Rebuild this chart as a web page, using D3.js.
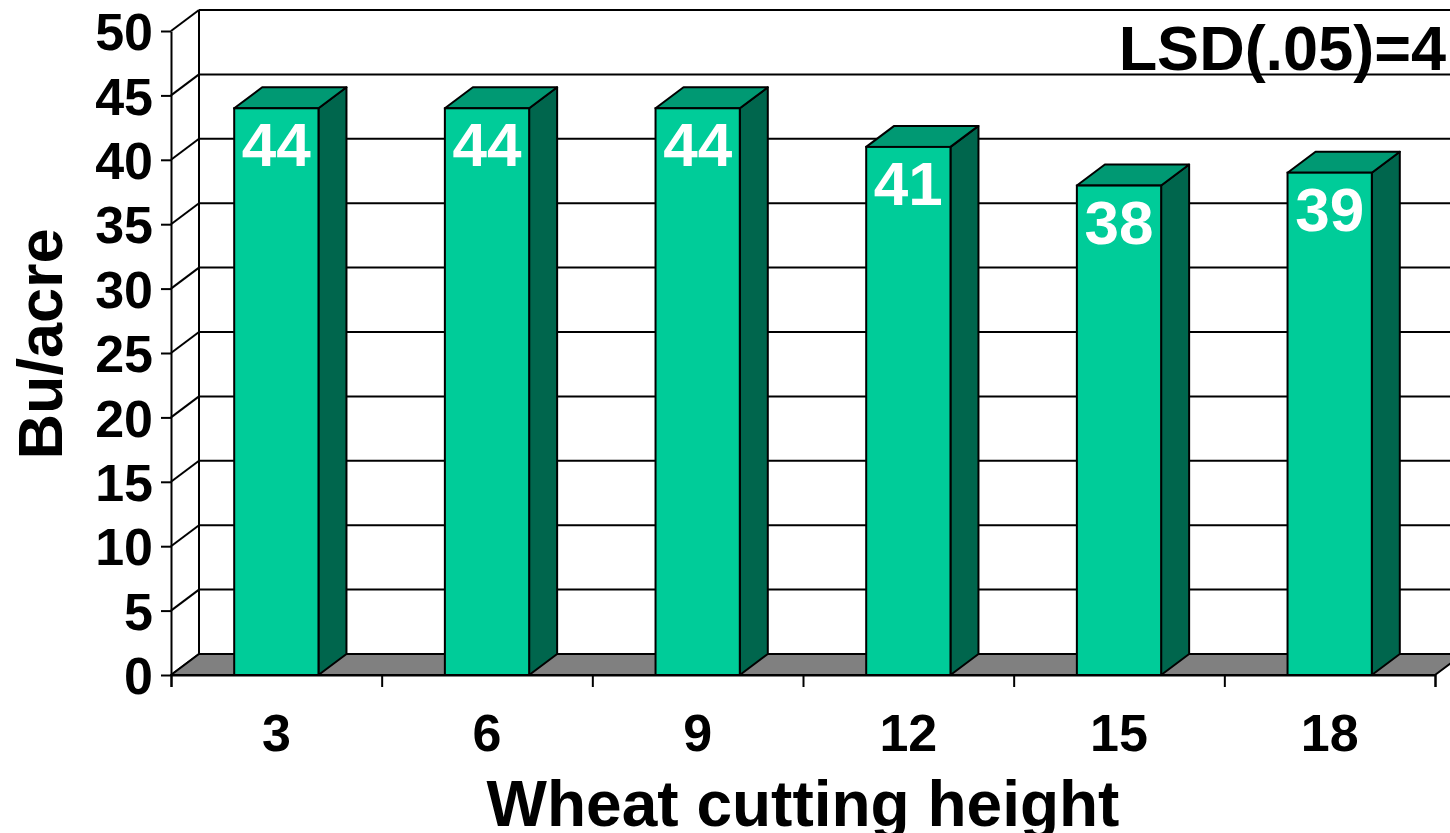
<!DOCTYPE html>
<html>
<head>
<meta charset="utf-8">
<script src="https://cdn.jsdelivr.net/npm/d3@7"></script>
<style>
  body { margin: 0; background: #fff; }
  text { font-family: "Liberation Sans", Arial, sans-serif; font-weight: bold; }
</style>
</head>
<body>
<div id="chart"></div>
<script>
// chart data
var heights = ["3", "6", "9", "12", "15", "18"];
var yields = [44, 44, 44, 41, 38, 39];
var yTicks = [0, 5, 10, 15, 20, 25, 30, 35, 40, 45, 50];
var lsdText = "LSD(.05)=4";

var svgWidth = 1450, svgHeight = 833;
// front plane of the 3d box
var plotLeft = 171, plotRight = 1435, plotBottom = 675, plotTop = 31;
// depth offset of the back wall
var dx = 28, dy = -21;

var svg = d3.select("#chart").append("svg")
  .attr("width", svgWidth)
  .attr("height", svgHeight);

var y = d3.scaleLinear().domain([0, 50]).range([plotBottom, plotTop]);
var x = d3.scaleBand().domain(heights).range([plotLeft, plotRight])
  .paddingInner(0.6).paddingOuter(0.3);
var edge = d3.scaleLinear().domain([0, heights.length]).range([plotLeft, plotRight]);

function pts(arr) { return arr.map(function(p) { return p.join(","); }).join(" "); }

// back wall gridlines
svg.append("g").selectAll("line")
  .data(yTicks).enter().append("line")
  .attr("x1", plotLeft + dx).attr("x2", plotRight + dx)
  .attr("y1", function(d) { return y(d) + dy; })
  .attr("y2", function(d) { return y(d) + dy; })
  .attr("stroke", "#000").attr("stroke-width", 2);

// side wall diagonals
svg.append("g").selectAll("line")
  .data(yTicks).enter().append("line")
  .attr("x1", plotLeft).attr("x2", plotLeft + dx)
  .attr("y1", function(d) { return y(d); })
  .attr("y2", function(d) { return y(d) + dy; })
  .attr("stroke", "#000").attr("stroke-width", 2);

// back wall left edge
svg.append("line")
  .attr("x1", plotLeft + dx).attr("x2", plotLeft + dx)
  .attr("y1", y(0) + dy).attr("y2", y(50) + dy)
  .attr("stroke", "#000").attr("stroke-width", 2);

// floor
svg.append("polygon")
  .attr("points", pts([[plotLeft, y(0)], [plotRight, y(0)], [plotRight + dx, y(0) + dy], [plotLeft + dx, y(0) + dy]]))
  .attr("fill", "#808080").attr("stroke", "#000").attr("stroke-width", 2)
  .attr("stroke-linejoin", "round");

// bars
var bar = svg.selectAll(".bar")
  .data(yields).enter().append("g")
  .attr("class", "bar");

bar.append("polygon") // side
  .attr("points", function(d, i) {
    var x1 = x(heights[i]) + x.bandwidth();
    return pts([[x1, y(0)], [x1 + dx, y(0) + dy], [x1 + dx, y(d) + dy], [x1, y(d)]]);
  })
  .attr("fill", "#00664d").attr("stroke", "#000").attr("stroke-width", 2)
  .attr("stroke-linejoin", "round");

bar.append("polygon") // top
  .attr("points", function(d, i) {
    var x0 = x(heights[i]), x1 = x0 + x.bandwidth();
    return pts([[x0, y(d)], [x1, y(d)], [x1 + dx, y(d) + dy], [x0 + dx, y(d) + dy]]);
  })
  .attr("fill", "#009973").attr("stroke", "#000").attr("stroke-width", 2)
  .attr("stroke-linejoin", "round");

bar.append("rect") // front
  .attr("x", function(d, i) { return x(heights[i]); })
  .attr("y", function(d) { return y(d); })
  .attr("width", x.bandwidth())
  .attr("height", function(d) { return y(0) - y(d); })
  .attr("fill", "#00cc99").attr("stroke", "#000").attr("stroke-width", 2);

// value labels
bar.append("text")
  .attr("x", function(d, i) { return x(heights[i]) + x.bandwidth() / 2; })
  .attr("y", function(d) { return y(d) + 58; })
  .attr("text-anchor", "middle")
  .style("font-size", "62px")
  .style("fill", "#fff")
  .text(function(d) { return d; });

// y axis
var yAxis = svg.append("g")
  .attr("transform", "translate(" + plotLeft + ",0)")
  .call(d3.axisLeft(y).tickValues(yTicks).tickSize(10).tickSizeOuter(0).tickPadding(8));
yAxis.select(".domain").attr("stroke", "#000").attr("stroke-width", 2);
yAxis.selectAll(".tick line").attr("stroke", "#000").attr("stroke-width", 2);
yAxis.selectAll(".tick text")
  .attr("dy", "0.36em")
  .attr("font-family", null).attr("font-size", null)
  .style("font-size", "52px").style("fill", "#000");

// x axis: boundary ticks
var xTickAxis = svg.append("g")
  .attr("transform", "translate(0," + plotBottom + ")")
  .call(d3.axisBottom(edge).tickValues(d3.range(heights.length + 1)).tickSize(12).tickFormat(""));
xTickAxis.select(".domain").attr("stroke", "#000").attr("stroke-width", 2);
xTickAxis.selectAll(".tick line").attr("stroke", "#000").attr("stroke-width", 2);

// x axis: category labels
var xLabelAxis = svg.append("g")
  .attr("transform", "translate(0," + plotBottom + ")")
  .attr("font-family", null).attr("font-size", null)
  .call(d3.axisBottom(x).tickSize(0).tickPadding(0));
xLabelAxis.select(".domain").remove();
xLabelAxis.selectAll(".tick text")
  .attr("y", 76).attr("dy", null)
  .style("font-size", "52px").style("fill", "#000");

// axis titles
svg.append("text")
  .attr("text-anchor", "middle")
  .attr("transform", "translate(62,344)rotate(-90)")
  .style("font-size", "63px")
  .text("Bu/acre");

svg.append("text")
  .attr("text-anchor", "middle")
  .attr("x", (plotLeft + plotRight) / 2).attr("y", 826)
  .style("font-size", "64px")
  .text("Wheat cutting height");

// LSD note
svg.append("text")
  .attr("text-anchor", "end")
  .attr("x", 1446).attr("y", 70)
  .style("font-size", "63px")
  .text(lsdText);
</script>
</body>
</html>
